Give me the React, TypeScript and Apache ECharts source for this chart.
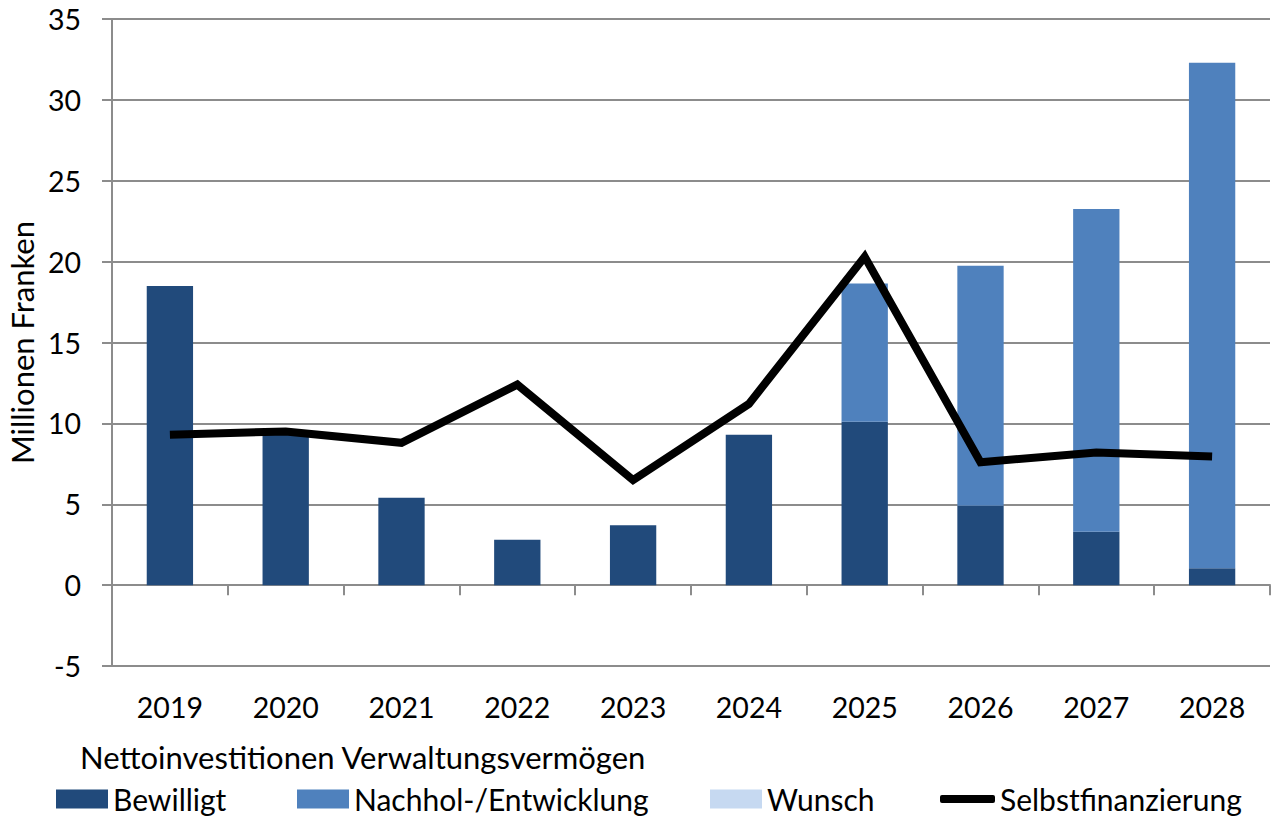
import React, { useEffect, useRef } from "react";
import * as echarts from "echarts";

const years = ["2019", "2020", "2021", "2022", "2023", "2024", "2025", "2026", "2027", "2028"];
const bewilligt = [18.5, 9.5, 5.4, 2.8, 3.7, 9.3, 10.1, 4.9, 3.3, 1.05];
const nachhol = [0, 0, 0, 0, 0, 0, 8.55, 14.85, 19.95, 31.25];
const wunsch = [0, 0, 0, 0, 0, 0, 0, 0, 0, 0];
const selbstfinanzierung = [9.3, 9.5, 8.8, 12.4, 6.5, 11.2, 20.3, 7.6, 8.2, 7.95];

const FONT = "Lato";
const AXIS_GRAY = "#8c8c8c";

export default function App() {
  const ref = useRef<HTMLDivElement>(null);
  useEffect(() => {
    if (!ref.current) return;
    const chart = echarts.init(ref.current, undefined, { renderer: "svg" });
    const legendText = { fontFamily: FONT, fontSize: 30, color: "#000" };
    chart.setOption({
      animation: false,
      backgroundColor: "#fff",
      textStyle: { fontFamily: FONT },
      title: {
        text: "Nettoinvestitionen Verwaltungsvermögen",
        left: 75,
        top: 736,
        textStyle: { fontFamily: FONT, fontSize: 31, fontWeight: "normal", color: "#000" },
      },
      legend: [
        { left: 51, top: 779, icon: "rect", itemWidth: 52, itemHeight: 19, textStyle: legendText, data: ["Bewilligt"] },
        { left: 292, top: 779, icon: "rect", itemWidth: 52, itemHeight: 19, textStyle: legendText, data: ["Nachhol-/Entwicklung"] },
        { left: 705, top: 779, icon: "rect", itemWidth: 52, itemHeight: 19, textStyle: legendText, data: ["Wunsch"] },
        { left: 935, top: 779, icon: "roundRect", itemWidth: 55, itemHeight: 8, textStyle: legendText, data: ["Selbstfinanzierung"] },
      ],
      grid: { left: 112, right: 7, top: 19, bottom: 153, containLabel: false, outerBoundsMode: "none" },
      xAxis: [
        {
          type: "category",
          data: years,
          boundaryGap: true,
          axisLine: { show: true, onZero: true, lineStyle: { color: AXIS_GRAY, width: 2 } },
          axisTick: { show: true, length: 10, alignWithLabel: false, lineStyle: { color: AXIS_GRAY, width: 2 } },
          axisLabel: { show: false },
          splitLine: { show: false },
        },
        {
          type: "category",
          data: years,
          position: "bottom",
          boundaryGap: true,
          axisLine: { show: false, onZero: false },
          axisTick: { show: false },
          axisLabel: { show: true, margin: 26, fontFamily: FONT, fontSize: 28.5, color: "#000" },
          splitLine: { show: false },
        },
      ],
      yAxis: {
        type: "value",
        min: -5,
        max: 35,
        interval: 5,
        name: "Millionen Franken",
        nameLocation: "middle",
        nameGap: 74,
        nameTextStyle: { fontFamily: FONT, fontSize: 31, color: "#000" },
        axisLine: { show: true, lineStyle: { color: AXIS_GRAY, width: 2 } },
        axisTick: { show: true, length: 10, lineStyle: { color: AXIS_GRAY, width: 2 } },
        axisLabel: { margin: 31, fontFamily: FONT, fontSize: 28.5, color: "#000" },
        splitLine: { show: true, lineStyle: { color: AXIS_GRAY, width: 2 } },
      },
      series: [
        {
          name: "Bewilligt",
          type: "bar",
          stack: "total",
          barWidth: "40%",
          data: bewilligt,
          itemStyle: { color: "#214a7b" },
        },
        {
          name: "Nachhol-/Entwicklung",
          type: "bar",
          stack: "total",
          barWidth: "40%",
          data: nachhol,
          itemStyle: { color: "#4f81bd" },
        },
        {
          name: "Wunsch",
          type: "bar",
          stack: "total",
          barWidth: "40%",
          data: wunsch,
          itemStyle: { color: "#c6d9f1" },
        },
        {
          name: "Selbstfinanzierung",
          type: "line",
          data: selbstfinanzierung,
          symbol: "none",
          z: 5,
          itemStyle: { color: "#000" },
          lineStyle: { color: "#000", width: 8, join: "miter" },
        },
      ],
    });
    return () => chart.dispose();
  }, []);
  return <div ref={ref} style={{ position: "absolute", left: 0, top: 0, width: 1277, height: 819 }} />;
}
